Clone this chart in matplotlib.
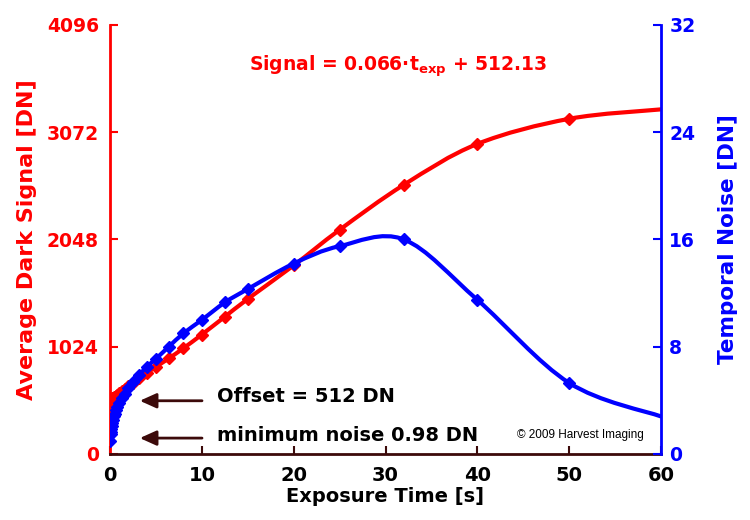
import matplotlib
matplotlib.use("Agg")
import matplotlib.pyplot as plt
import numpy as np
from matplotlib.path import Path
from matplotlib.patches import PathPatch

plt.rcParams['font.family'] = ['DejaVu Sans']
plt.rcParams['font.weight'] = 'bold'
plt.rcParams['mathtext.fontset'] = 'custom'
plt.rcParams['mathtext.rm'] = 'DejaVu Sans:bold'
plt.rcParams['mathtext.bf'] = 'DejaVu Sans:bold'

# exposure time [s]
t_exp = [0, 0.1, 0.125, 0.16, 0.2, 0.25, 0.32, 0.4, 0.5, 0.64, 0.8, 1, 1.25, 1.6,
         2, 2.5, 3.2, 4, 5, 6.4, 8, 10, 12.5, 15, 20, 25, 32, 40, 50, 60]
# average dark signal [DN]
signal = [512, 519, 521, 523, 526, 530, 535, 540, 547, 556, 567, 580, 597, 620,
          646, 678, 722, 772, 832, 912, 1010, 1140, 1310, 1480, 1800, 2140, 2570,
          2960, 3200, 3290]
# temporal noise [DN]
noise = [0.98, 1.5, 1.65, 1.85, 2.05, 2.3, 2.55, 2.8, 3.0, 3.25, 3.5, 3.8, 4.15, 4.5,
         4.9, 5.35, 5.9, 6.5, 7.1, 8.0, 9.0, 10.0, 11.3, 12.3, 14.2, 15.5, 16.0,
         11.5, 5.3, 2.8]

x_ticks = [0, 10, 20, 30, 40, 50, 60]
sig_ticks = [0, 1024, 2048, 3072, 4096]
noise_ticks = [0, 8, 16, 24, 32]

RED = '#ff0000'
BLUE = '#0000ff'
DARK = '#3c0a0a'


def smooth_path(x, y):
    # excel-like smoothed line: bezier segments with catmull-rom control points
    x = np.asarray(x, float)
    y = np.asarray(y, float)
    n = len(x)
    verts = [(x[0], y[0])]
    codes = [Path.MOVETO]
    for i in range(n - 1):
        i0 = max(i - 1, 0)
        i3 = min(i + 2, n - 1)
        c1 = (x[i] + (x[i + 1] - x[i0]) / 6, y[i] + (y[i + 1] - y[i0]) / 6)
        c2 = (x[i + 1] - (x[i3] - x[i]) / 6, y[i + 1] - (y[i3] - y[i]) / 6)
        verts += [c1, c2, (x[i + 1], y[i + 1])]
        codes += [Path.CURVE4] * 3
    return Path(verts, codes)


fig = plt.figure(figsize=(7.5, 5.2), dpi=100)
ax = fig.add_axes([0.1467, 0.127, 0.7346, 0.825])
ax2 = ax.twinx()

has_marker = np.array(t_exp) < 60

ax.add_patch(PathPatch(smooth_path(t_exp, signal), fill=False, edgecolor=RED,
                       lw=3, capstyle='round'))
ax.plot(np.array(t_exp)[has_marker], np.array(signal)[has_marker], ls='none',
        marker='D', ms=6.5, color=RED)

ax2.add_patch(PathPatch(smooth_path(t_exp, noise), fill=False, edgecolor=BLUE,
                        lw=3, capstyle='round'))
ax2.plot(np.array(t_exp)[has_marker], np.array(noise)[has_marker], ls='none',
         marker='D', ms=6.5, color=BLUE)

ax.set_xlim(0, 60)
ax.set_ylim(0, 4096)
ax2.set_ylim(0, 32)
ax.set_xticks(x_ticks)
ax.set_yticks(sig_ticks)
ax2.set_yticks(noise_ticks)

for a in (ax, ax2):
    a.spines['top'].set_visible(False)
ax.spines['right'].set_visible(False)
ax2.spines['left'].set_visible(False)
ax2.spines['bottom'].set_visible(False)
ax.spines['left'].set_color(RED)
ax.spines['left'].set_linewidth(2)
ax.spines['bottom'].set_color(DARK)
ax.spines['bottom'].set_linewidth(2)
ax2.spines['right'].set_color(BLUE)
ax2.spines['right'].set_linewidth(2)

ax.tick_params(axis='x', direction='in', length=6, width=1.5, color=DARK,
               labelsize=14, labelcolor='black', pad=9)
ax.tick_params(axis='y', direction='in', length=6, width=1.5, color=RED,
               labelsize=13.5, labelcolor=RED, pad=8)
ax2.tick_params(axis='y', direction='in', length=6, width=1.5, color=BLUE,
                labelsize=13.5, labelcolor=BLUE, pad=6)

ax.set_xlabel('Exposure Time [s]', fontsize=14, fontweight='bold', labelpad=1)
ax.set_ylabel('Average Dark Signal [DN]', fontsize=16, fontweight='bold',
              color=RED, labelpad=7)
ax2.set_ylabel('Temporal Noise [DN]', fontsize=15.5, fontweight='bold',
               color=BLUE, labelpad=16)

ax.text(0.523, 0.904, r'Signal = 0.066·t$_{\rm exp}$ + 512.13', transform=ax.transAxes,
        ha='center', va='center', fontsize=13.5, fontweight='bold', color=RED)

ax.text(0.194, 0.133, 'Offset = 512 DN', transform=ax.transAxes, ha='left',
        va='center', fontsize=14, fontweight='bold', color='black')
ax.text(0.194, 0.042, 'minimum noise 0.98 DN', transform=ax.transAxes, ha='left',
        va='center', fontsize=14, fontweight='bold', color='black')
for ya in (0.124, 0.037):
    ax.annotate('', xy=(0.049, ya), xytext=(0.172, ya), xycoords='axes fraction',
                arrowprops=dict(arrowstyle='-|>,head_length=1.0,head_width=0.45',
                                color=DARK, lw=2))

ax.text(0.853, 0.044, '© 2009 Harvest Imaging', transform=ax.transAxes, ha='center',
        va='center', fontsize=8.5, fontweight='normal', color='black',
        family='Liberation Sans')

fig.savefig('out.png', dpi=100)
